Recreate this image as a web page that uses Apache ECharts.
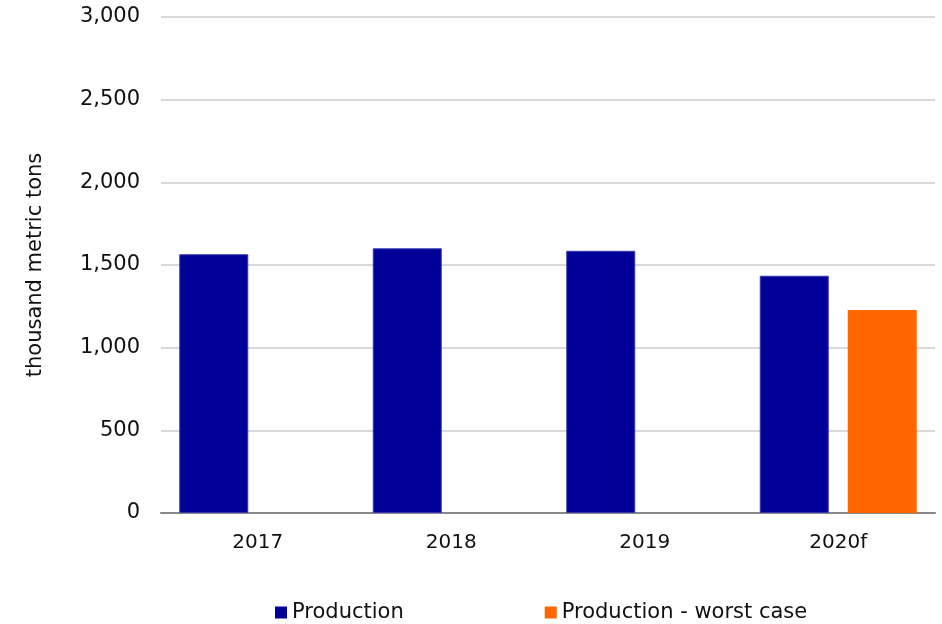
<!DOCTYPE html>
<html>
<head>
<meta charset="utf-8">
<script src="https://cdn.jsdelivr.net/npm/echarts@6/dist/echarts.min.js"></script>
<style>
  html, body { margin: 0; padding: 0; background: #fff; }
  #chart { width: 942px; height: 624px; }
</style>
</head>
<body>
<div id="chart"></div>
<script>
// Annual production, thousand metric tons
const categories = ['2017', '2018', '2019', '2020f'];
const production = [1565, 1601, 1586, 1435];
const productionWorstCase = [null, null, null, 1228];
const yTicks = { min: 0, max: 3000, step: 500 };

const FONT = 'DejaVu Sans, Verdana, sans-serif';

const chart = echarts.init(document.getElementById('chart'));
chart.setOption({
  backgroundColor: '#ffffff',
  animation: false,
  textStyle: { fontFamily: FONT, color: '#000' },
  grid: { left: 161, right: 7, top: 17, bottom: 111, containLabel: false },
  legend: {
    top: 602,
    left: 275,
    padding: 0,
    itemWidth: 12,
    itemHeight: 12,
    itemGap: 141,
    icon: 'rect',
    itemStyle: { borderWidth: 0 },
    textStyle: { fontFamily: FONT, fontSize: 21, color: '#111' },
    data: ['Production', 'Production - worst case']
  },
  xAxis: {
    type: 'category',
    data: categories,
    axisLine: { show: true, lineStyle: { color: '#888888', width: 2 } },
    axisTick: { show: false },
    axisLabel: { fontFamily: FONT, fontSize: 20, color: '#111', margin: 20 }
  },
  yAxis: {
    type: 'value',
    min: yTicks.min,
    max: yTicks.max,
    interval: yTicks.step,
    name: 'thousand metric tons',
    nameLocation: 'middle',
    nameGap: 115,
    nameTextStyle: { fontFamily: FONT, fontSize: 21, color: '#111' },
    axisLine: { show: false },
    axisTick: { show: false },
    splitLine: { lineStyle: { color: '#d9d9d9', width: 2 } },
    axisLabel: {
      fontFamily: FONT, fontSize: 21, color: '#111', margin: 21,
      formatter: v => v.toLocaleString('en-US')
    }
  },
  series: [
    {
      name: 'Production',
      type: 'bar',
      data: production,
      barWidth: 69,
      barGap: '27.5%',
      itemStyle: { color: '#000099', borderColor: '#3a3ab0', borderWidth: 1 }
    },
    {
      name: 'Production - worst case',
      type: 'bar',
      data: productionWorstCase,
      barWidth: 69,
      barGap: '27.5%',
      itemStyle: { color: '#ff6600' }
    }
  ]
});
</script>
</body>
</html>
